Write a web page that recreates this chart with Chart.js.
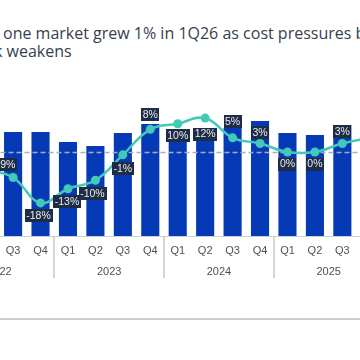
<!DOCTYPE html>
<html lang="en">
<head>
    <meta charset="UTF-8">
    <title>Smartphone market quarterly shipments and YoY growth</title>
    <script src="https://cdn.jsdelivr.net/npm/chart.js"></script>
    <style>
        html, body {
            margin: 0;
            padding: 0;
            background: #fff;
            overflow: hidden;
        }
        .frame {
            position: relative;
            width: 360px;
            height: 360px;
            overflow: hidden;
        }
        .title {
            position: absolute;
            top: 24px;
            font-family: "Open Sans", sans-serif;
            font-size: 16px;
            line-height: 18px;
            color: #353f4f;
            white-space: nowrap;
        }
        #chart {
            position: absolute;
            left: -60px;
            top: 60px;
        }
        .rule {
            position: absolute;
            left: 0;
            top: 318px;
            width: 360px;
            height: 2px;
            background: #cdcdcd;
        }
    </style>
</head>
<body>
<div class="frame">
    <div class="title" style="left: 3px;">one market grew 1% in 1Q26 as cost pressures b</div>
    <div class="title" style="left: -6px; top: 42px;">k weakens</div>
    <canvas id="chart" width="448" height="220"></canvas>
    <div class="rule"></div>
</div>

<script>
    const quarters = ['Q1', 'Q2', 'Q3', 'Q4', 'Q1', 'Q2', 'Q3', 'Q4', 'Q1', 'Q2', 'Q3', 'Q4', 'Q1', 'Q2', 'Q3', 'Q4'];
    const years = ['2022', '2022', '2022', '2022', '2023', '2023', '2023', '2023',
                   '2024', '2024', '2024', '2024', '2025', '2025', '2025', '2025'];
    // shipments (relative units) and YoY growth (%)
    const shipments = [null, null, 104, 104, 94, 90, 103, 112, 103, 101, 108, 115, 103, 101, 111, 121];
    const growth = [null, -6, -9, -18, -13, -10, -1, 8, 10, 12, 5, 3, 0, 0, 3, 5];

    // label placement relative to each point (px)
    const labelDx = [0, 0, -7, -2, -1, -3, 0, 0, 0, 0, 0, 0, 0, 0, 0, 0];
    const labelDy = [0, 0, -13, 13, 13, 13, 14, -15, 12, 16, -16, -11, 12, 12, -12, -12];

    const axisFont = '11px "Liberation Sans", Arial, sans-serif';

    const overlay = {
        id: 'overlay',
        afterDatasetDraw(chart, args) {
            if (args.index !== 0) return;
            const { ctx, chartArea, scales } = chart;
            const y = Math.round(scales.y2.getPixelForValue(0)) + 0.5;
            ctx.save();
            ctx.setLineDash([5, 3]);
            ctx.strokeStyle = '#a7aec0';
            ctx.lineWidth = 1.3;
            ctx.beginPath();
            ctx.moveTo(chartArea.left, y);
            ctx.lineTo(chartArea.right, y);
            ctx.stroke();
            ctx.restore();
        },
        afterDraw(chart) {
            const { ctx, chartArea, scales } = chart;
            const x = scales.x;
            ctx.save();

            // year separators and year labels
            ctx.strokeStyle = '#c6c6c6';
            ctx.lineWidth = 1.5;
            ctx.font = axisFont;
            ctx.fillStyle = '#505050';
            ctx.textAlign = 'center';
            ctx.textBaseline = 'middle';
            let start = 0;
            for (let i = 1; i <= years.length; i++) {
                if (i === years.length || years[i] !== years[start]) {
                    const cx = (x.getPixelForValue(start) + x.getPixelForValue(i - 1)) / 2;
                    ctx.fillText(years[start], cx, chartArea.bottom + 35.5);
                    if (i < years.length) {
                        const sx = Math.round((x.getPixelForValue(i - 1) + x.getPixelForValue(i)) / 2);
                        ctx.beginPath();
                        ctx.moveTo(sx, chartArea.bottom);
                        ctx.lineTo(sx, chartArea.bottom + 42);
                        ctx.stroke();
                    }
                    start = i;
                }
            }

            // growth labels
            const meta = chart.getDatasetMeta(1);
            ctx.font = '10.5px "Liberation Sans", Arial, sans-serif';
            meta.data.forEach((pt, i) => {
                const v = growth[i];
                if (v === null || v === undefined) return;
                const text = v + '%';
                const w = ctx.measureText(text).width + 3;
                const h = 13;
                const cx = pt.x + labelDx[i];
                const cy = pt.y + labelDy[i];
                ctx.fillStyle = '#1f2c46';
                ctx.fillRect(Math.round(cx - w / 2), Math.round(cy - h / 2), Math.round(w), h);
                ctx.fillStyle = '#e8ebf0';
                ctx.fillText(text, cx, cy + 0.5);
            });
            ctx.restore();
        }
    };

    new Chart(document.getElementById('chart'), {
        data: {
            labels: quarters.map((q, i) => q + ' ' + years[i]),
            datasets: [
                {
                    type: 'bar',
                    label: 'Shipments',
                    data: shipments,
                    backgroundColor: '#0539b5',
                    borderWidth: 0,
                    barPercentage: 0.66,
                    categoryPercentage: 1,
                    yAxisID: 'y',
                    order: 2
                },
                {
                    type: 'line',
                    label: 'YoY growth',
                    data: growth,
                    borderColor: '#42c9b8',
                    backgroundColor: '#42c9b8',
                    borderWidth: 2.5,
                    pointRadius: 4.5,
                    pointBorderWidth: 0,
                    tension: 0.4,
                    yAxisID: 'y2',
                    order: 1
                }
            ]
        },
        options: {
            responsive: false,
            animation: false,
            layout: { padding: { top: 36, left: 0, right: 0, bottom: 0 } },
            plugins: {
                legend: { display: false },
                tooltip: { enabled: false }
            },
            scales: {
                x: {
                    grid: { display: false, drawTicks: false },
                    border: { display: true, color: '#cfcfcf', width: 1 },
                    ticks: {
                        autoSkip: false,
                        maxRotation: 0,
                        padding: 8,
                        color: '#505050',
                        font: { family: '"Liberation Sans", Arial, sans-serif', size: 11 },
                        callback: (value, index) => quarters[index]
                    },
                    afterFit: (scale) => { scale.height = 44; }
                },
                y: { display: false, min: 0, max: 140 },
                y2: { display: false, min: -29.7, max: 19.8 }
            }
        },
        plugins: [overlay]
    });
</script>
</body>
</html>
